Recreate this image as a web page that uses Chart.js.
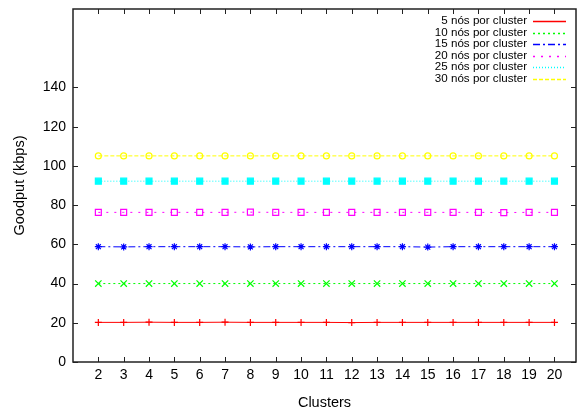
<!DOCTYPE html>
<html>
<head>
<meta charset="utf-8">
<script src="https://cdn.jsdelivr.net/npm/chart.js@4/dist/chart.umd.min.js"></script>
<style>
html,body{margin:0;padding:0;background:#fff;}
#wrap{width:582px;height:415px;}
</style>
</head>
<body>
<div id="wrap"><canvas id="c" width="582" height="415"></canvas></div>
<script>
const clusters = [2,3,4,5,6,7,8,9,10,11,12,13,14,15,16,17,18,19,20];
const seriesNames = ["5 nós por cluster","10 nós por cluster","15 nós por cluster","20 nós por cluster","25 nós por cluster","30 nós por cluster"];
const goodput5  = [20.2,20.2,20.3,20.2,20.2,20.3,20.2,20.2,20.2,20.2,20.1,20.2,20.2,20.2,20.2,20.2,20.2,20.2,20.2];
const goodput10 = [40.0,40.0,40.0,40.0,40.0,40.0,40.0,40.0,40.0,40.0,40.0,40.0,40.0,40.0,40.0,40.0,40.0,40.0,40.0];
const goodput15 = [58.8,58.7,58.8,58.8,58.8,58.8,58.7,58.8,58.8,58.8,58.8,58.8,58.8,58.6,58.8,58.8,58.8,58.8,58.8];
const goodput20 = [76.3,76.3,76.3,76.3,76.3,76.3,76.4,76.3,76.3,76.3,76.3,76.3,76.3,76.3,76.3,76.3,76.2,76.3,76.3];
const goodput25 = [92.2,92.2,92.2,92.2,92.2,92.2,92.2,92.2,92.2,92.2,92.2,92.2,92.2,92.2,92.2,92.2,92.2,92.2,92.2];
const goodput30 = [105.1,105.1,105.1,105.1,105.1,105.1,105.1,105.1,105.1,105.1,105.1,105.1,105.1,105.1,105.1,105.1,105.1,105.1,105.1];
const yTickValues = [0,20,40,60,80,100,120,140];
const xTickValues = clusters;

const allSeries = [goodput5,goodput10,goodput15,goodput20,goodput25,goodput30];
const lineColors = ['#ff0000','#00ff00','#0000ff','#ff00ff','#00ffff','#ffff00'];
const dashes = [[],[2,3],[7,3,2,3],[2,6],[1,2],[4,2]];
const pStyles = ['cross','crossRot','star','rect','rect','circle'];
const pRadius = [3.5,4.5,3.5,4.2,4.2,3];
const pFill = [false,false,false,false,true,false];

const datasets = allSeries.map((vals,i)=>({
  label: seriesNames[i],
  data: clusters.map((x,j)=>({x:x,y:vals[j]})),
  borderColor: lineColors[i],
  backgroundColor: pFill[i] ? lineColors[i] : 'rgba(0,0,0,0)',
  borderWidth: 1,
  borderDash: dashes[i],
  pointStyle: pStyles[i],
  pointRadius: pRadius[i],
  pointBorderWidth: 1.2,
  pointBorderColor: lineColors[i],
  pointBackgroundColor: pFill[i] ? lineColors[i] : 'rgba(0,0,0,0)',
  tension: 0,
  fill: false
}));

const frame = {
  id:'frame',
  afterDatasetsDraw(chart){
    const {ctx, chartArea:a, scales:{x,y}} = chart;
    ctx.save();
    ctx.strokeStyle = '#222';
    ctx.lineWidth = 1;
    ctx.setLineDash([]);
    const tl = 5;
    ctx.beginPath();
    xTickValues.forEach(v=>{
      const px = Math.round(x.getPixelForValue(v))+0.5;
      ctx.moveTo(px,a.bottom); ctx.lineTo(px,a.bottom-tl);
      ctx.moveTo(px,a.top); ctx.lineTo(px,a.top+tl);
    });
    yTickValues.forEach(v=>{
      const py = Math.round(y.getPixelForValue(v))+0.5;
      ctx.moveTo(a.left,py); ctx.lineTo(a.left+tl,py);
      ctx.moveTo(a.right,py); ctx.lineTo(a.right-tl,py);
    });
    ctx.stroke();
    ctx.lineWidth = 1.5;
    ctx.strokeRect(a.left, a.top, a.right-a.left, a.bottom-a.top);
    ctx.restore();
  },
  afterDraw(chart){
    const ctx = chart.ctx;
    seriesNames.forEach((name,i)=>{
      const yy = 21 + i*11.5;
      ctx.save();
      ctx.font = '11.6px "Liberation Sans", Arial, sans-serif';
      ctx.textAlign = 'right';
      ctx.textBaseline = 'middle';
      ctx.fillStyle = '#000000';
      ctx.fillText(name, 527, yy);
      ctx.restore();
      ctx.save();
      ctx.strokeStyle = chart.data.datasets[i].borderColor;
      ctx.globalAlpha = 1;
      ctx.lineWidth = 1.3;
      ctx.setLineDash(dashes[i]);
      ctx.beginPath();
      ctx.moveTo(533, Math.round(yy)+0.5);
      ctx.lineTo(566, Math.round(yy)+0.5);
      ctx.stroke();
      ctx.restore();
    });
  }
};

new Chart(document.getElementById('c'), {
  type:'line',
  data:{datasets},
  options:{
    responsive:false,
    animation:false,
    layout:{padding:{top:9,right:6,left:0,bottom:0}},
    plugins:{legend:{display:false},tooltip:{enabled:false}},
    scales:{
      x:{
        type:'linear', min:1, max:20.85,
        grid:{display:false, drawTicks:false},
        border:{display:false},
        afterBuildTicks(s){ s.ticks = xTickValues.map(v=>({value:v})); },
        afterFit(s){ s.height = 53; s.paddingLeft = 0; s.paddingRight = 0; },
        ticks:{autoSkip:false, maxRotation:0, padding:5, color:'#000',
          font:{family:'"Liberation Sans", Arial, sans-serif', size:14}},
        title:{display:true, text:'Clusters', color:'#000', padding:{top:0,bottom:3},
          font:{family:'"Liberation Sans", Arial, sans-serif', size:14.5}}
      },
      y:{
        type:'linear', min:0, max:180,
        grid:{display:false, drawTicks:false},
        border:{display:false},
        afterBuildTicks(s){ s.ticks = yTickValues.map(v=>({value:v})); },
        afterFit(s){ s.width = 73; s.paddingTop = 0; s.paddingBottom = 0; },
        ticks:{padding:7, color:'#000',
          font:{family:'"Liberation Sans", Arial, sans-serif', size:14}},
        title:{display:true, text:'Goodput (kbps)', color:'#000', padding:{top:11,bottom:0},
          font:{family:'"Liberation Sans", Arial, sans-serif', size:14.5}}
      }
    }
  },
  plugins:[frame]
});
</script>
</body>
</html>
